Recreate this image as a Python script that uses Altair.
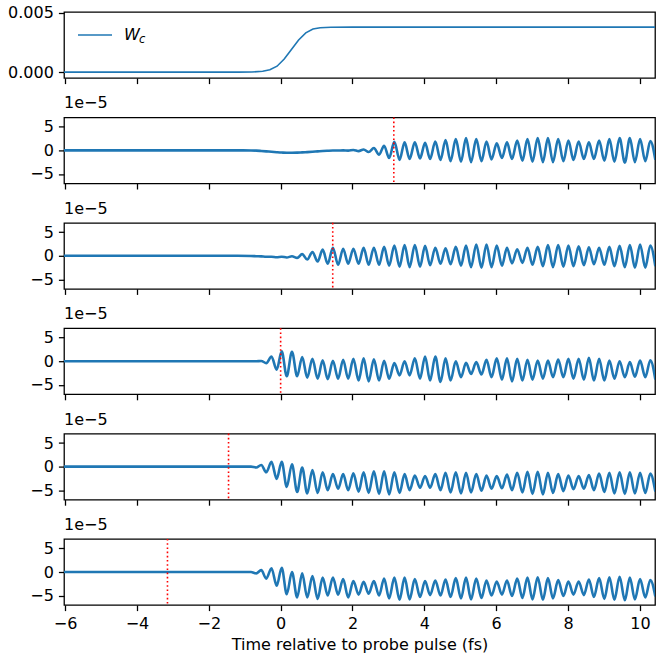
import altair as alt
import pandas as pd

# ---- shared axis settings -------------------------------------------------
x_range = [-6.03, 10.42]
x_ticks = [-6, -4, -2, 0, 2, 4, 6, 8, 10]
y_ticks = [-5, 0, 5]
wc_ticks = [0.0, 0.005]

# ---- W_c (top panel) -------------------------------------------------------
wc_t = [-6.03, -1.2, -0.8, -0.5, -0.3, -0.1, 0.1, 0.3, 0.5, 0.7, 0.9, 1.1, 1.4, 2.0, 10.42]
wc_v = [0.0, 0.0, 0.00001, 0.00008, 0.0002, 0.0005, 0.0011, 0.0019, 0.0027,
        0.0033, 0.00362, 0.00373, 0.00377, 0.00378, 0.00378]

# ---- response traces (units of 1e-5) -------------------------------------
t_quiet = [-6.03, -1.2]
t_peak = [-0.825, -0.54, -0.255, 0.03, 0.315, 0.6, 0.885, 1.17, 1.455, 1.74,
          2.025, 2.31, 2.595, 2.88, 3.165, 3.45, 3.735, 4.02, 4.305, 4.59,
          4.875, 5.16, 5.445, 5.73, 6.015, 6.3, 6.585, 6.87, 7.155, 7.44,
          7.725, 8.01, 8.295, 8.58, 8.865, 9.15, 9.435, 9.72, 10.005, 10.29]
t_trough = [-0.68, -0.40, -0.11, 0.17, 0.46, 0.74, 1.03, 1.31, 1.60, 1.88,
            2.17, 2.45, 2.74, 3.02, 3.31, 3.59, 3.88, 4.16, 4.45, 4.73,
            5.02, 5.30, 5.59, 5.87, 6.16, 6.44, 6.73, 7.01, 7.30, 7.58,
            7.87, 8.15, 8.44, 8.72, 9.01, 9.29, 9.58, 9.86, 10.15, 10.43]

probe_delay = [3.15, 1.45, 0.0, -1.45, -3.15]

p2_peak = [-0.02, -0.12, -0.3, -0.45, -0.5, -0.42, -0.28, -0.12, -0.03, 0.0,
           0.1, 0.2, 0.5, 1.0, 1.8, 1.7, 1.7, 1.6, 1.9, 2.2,
           2.4, 2.6, 2.4, 1.9, 1.5, 1.7, 2.1, 2.4, 2.6, 2.6,
           2.4, 2.1, 1.9, 1.7, 2.1, 2.4, 2.6, 2.6, 2.4, 2.0]
p2_trough = [-0.05, -0.2, -0.38, -0.5, -0.48, -0.36, -0.2, -0.07, -0.02, -0.05,
             -0.15, -0.35, -0.9, -1.6, -2.0, -1.8, -1.7, -1.8, -2.0, -2.3,
             -2.4, -2.5, -2.3, -1.9, -1.6, -1.8, -2.2, -2.4, -2.5, -2.5,
             -2.3, -2.0, -1.8, -1.8, -2.2, -2.4, -2.6, -2.5, -2.3, -2.0]

p3_peak = [-0.03, -0.12, -0.2, -0.2, -0.1, 0.35, 0.8, 1.3, 1.7, 1.5,
           1.5, 1.7, 1.7, 1.9, 2.2, 2.3, 2.3, 2.1, 1.7, 1.6,
           1.9, 2.2, 2.4, 2.4, 2.2, 1.7, 1.4, 1.7, 1.9, 2.3,
           2.3, 2.2, 2.0, 1.8, 1.7, 1.9, 2.1, 2.3, 2.4, 2.2]
p3_trough = [-0.08, -0.2, -0.3, -0.35, -0.45, -0.8, -1.2, -1.7, -1.9, -1.7,
             -1.7, -1.9, -1.9, -2.1, -2.3, -2.4, -2.3, -2.0, -1.7, -1.8,
             -2.1, -2.4, -2.5, -2.4, -2.1, -1.6, -1.5, -1.9, -2.2, -2.4,
             -2.3, -2.2, -2.0, -1.8, -1.9, -2.2, -2.4, -2.5, -2.5, -2.2]

p4_peak = [0.0, 0.05, 1.0, 2.1, 2.0, 0.9, 0.5, 0.2, 0.1, 0.3,
           0.5, 0.6, 0.4, 0.1, -0.4, 0.0, 0.6, 1.0, 1.0, 0.6,
           0.0, -0.35, -0.2, 0.3, 0.6, 0.6, 0.5, 0.3, 0.15, 0.15,
           0.35, 0.5, 0.5, 0.7, 0.5, 0.15, 0.0, -0.2, 0.15, 0.2]
p4_trough = [0.0, -0.4, -1.8, -3.2, -3.2, -3.5, -3.7, -3.8, -3.7, -3.7,
             -4.1, -4.3, -4.1, -3.7, -3.0, -3.0, -3.7, -4.1, -4.4, -4.1,
             -3.4, -2.7, -2.8, -3.4, -3.9, -4.3, -4.1, -3.9, -3.7, -3.4,
             -3.4, -3.7, -3.9, -4.1, -4.1, -3.7, -3.4, -3.3, -3.4, -3.9]

p5_peak = [0.0, 0.35, 1.0, 1.0, 0.5, -0.2, -0.75, -1.2, -1.6, -1.6,
           -1.4, -1.2, -1.0, -1.0, -1.2, -1.6, -1.9, -2.0, -1.6, -1.3,
           -1.2, -1.3, -1.6, -1.9, -2.0, -1.7, -1.3, -1.1, -1.1, -1.3,
           -1.6, -1.9, -2.0, -1.8, -1.5, -1.3, -1.2, -1.2, -1.3, -1.5]
p5_trough = [-0.2, -1.2, -2.6, -4.3, -5.4, -5.7, -5.6, -5.0, -4.7, -5.0,
             -5.3, -5.6, -5.8, -5.9, -5.6, -5.0, -4.5, -4.5, -5.0, -5.5,
             -5.7, -5.5, -5.1, -4.7, -4.6, -5.0, -5.5, -5.8, -5.9, -5.6,
             -5.2, -4.8, -4.7, -5.0, -5.4, -5.7, -5.8, -5.7, -5.6, -5.3]

p6_peak = [0.0, 0.4, 0.8, 0.9, 0.0, -0.3, -0.85, -1.2, -1.2, -1.5,
           -1.9, -2.1, -1.9, -1.4, -1.2, -1.2, -1.5, -1.9, -1.8, -1.6,
           -1.3, -1.2, -1.4, -1.8, -2.0, -1.8, -1.4, -1.2, -1.1, -1.3,
           -1.7, -2.0, -2.0, -1.6, -1.3, -1.1, -1.0, -1.2, -1.5, -1.7]
p6_trough = [-0.3, -1.4, -2.9, -4.7, -5.4, -5.4, -5.7, -5.0, -4.8, -5.4,
             -4.8, -4.6, -5.0, -5.6, -5.9, -5.8, -5.3, -4.9, -5.0, -5.3,
             -5.6, -5.8, -5.5, -5.0, -4.8, -5.1, -5.5, -5.8, -5.9, -5.6,
             -5.1, -4.8, -4.9, -5.3, -5.7, -5.9, -6.0, -5.8, -5.4, -5.2]

traces = [(p2_peak, p2_trough), (p3_peak, p3_trough), (p4_peak, p4_trough),
          (p5_peak, p5_trough), (p6_peak, p6_trough)]

BLUE = "#1f77b4"
FONT = "DejaVu Sans"
W, H = 591, 66


def trace_frame(peak_vals, trough_vals):
    rows = [(t, 0.0) for t in t_quiet]
    for tp, vp, tt, vt in zip(t_peak, peak_vals, t_trough, trough_vals):
        rows.append((tp, vp))
        rows.append((tt, vt))
    return pd.DataFrame(rows, columns=["t", "v"])


def x_enc(last):
    axis_kw = dict(values=x_ticks, labels=last, labelFlush=False, grid=False)
    if last:
        return alt.X("t:Q", scale=alt.Scale(domain=x_range, nice=False, zero=False),
                     axis=alt.Axis(**axis_kw), title="Time relative to probe pulse (fs)")
    return alt.X("t:Q", scale=alt.Scale(domain=x_range, nice=False, zero=False),
                 axis=alt.Axis(**axis_kw), title=None)


# ---- top panel: W_c with its legend --------------------------------------
wc_df = pd.DataFrame({"t": wc_t, "v": wc_v})
wc_line = alt.Chart(wc_df).mark_line(color=BLUE, strokeWidth=1.6, clip=True).encode(
    x=x_enc(False),
    y=alt.Y("v:Q", scale=alt.Scale(domain=[-0.00049, 0.00505], nice=False, zero=False),
            axis=alt.Axis(values=wc_ticks, format=".3f", grid=False), title=None),
)
one = pd.DataFrame({"k": [0]})
legend_line = alt.Chart(one).mark_rule(color=BLUE, strokeWidth=1.6).encode(
    x=alt.value(14), x2=alt.value(48), y=alt.value(23))
legend_w = alt.Chart(pd.DataFrame({"s": ["W"]})).mark_text(
    align="left", baseline="middle", font=FONT, fontSize=16, fontStyle="italic",
    color="black").encode(x=alt.value(60), y=alt.value(23), text="s:N")
legend_c = alt.Chart(pd.DataFrame({"s": ["c"]})).mark_text(
    align="left", baseline="middle", font=FONT, fontSize=11.5, fontStyle="italic",
    color="black").encode(x=alt.value(75), y=alt.value(28), text="s:N")
top = alt.layer(wc_line, legend_line, legend_w, legend_c).properties(width=W, height=H)

# ---- response panels -----------------------------------------------------
panels = [top]
for i, ((pk, tr), delay) in enumerate(zip(traces, probe_delay)):
    last = i == len(traces) - 1
    df = trace_frame(pk, tr)
    line = alt.Chart(df).mark_line(color=BLUE, strokeWidth=2.6, interpolate="monotone",
                                   clip=True).encode(
        x=x_enc(last),
        y=alt.Y("v:Q", scale=alt.Scale(domain=[-7, 7], nice=False, zero=False),
                axis=alt.Axis(values=y_ticks, format="~g", grid=False), title=None),
    )
    rule = alt.Chart(pd.DataFrame({"t": [delay]})).mark_rule(
        color="red", strokeDash=[1.6, 2.6], strokeWidth=1.6).encode(x="t:Q")
    scale_lbl = alt.Chart(pd.DataFrame({"s": ["1e\u22125"]})).mark_text(
        align="left", baseline="alphabetic", font=FONT, fontSize=16, color="black").encode(
        x=alt.value(0), y=alt.value(-9), text="s:N")
    panels.append(alt.layer(line, rule, scale_lbl).properties(width=W, height=H))

chart = alt.vconcat(*panels, spacing=39.4, bounds="flush").properties(
    padding={"left": 6, "top": 3, "right": 5, "bottom": 5}
).configure_view(
    stroke="black", strokeWidth=1.28
).configure_axis(
    domain=False, grid=False, tickColor="black", tickSize=5.6, tickWidth=1.28,
    labelFont=FONT, labelFontSize=16, labelColor="black", labelPadding=5,
    titleFont=FONT, titleFontSize=16, titleFontWeight="normal", titleColor="black",
    titlePadding=5,
)

chart.save("out.html", embed_options={"renderer": "svg", "actions": False})
